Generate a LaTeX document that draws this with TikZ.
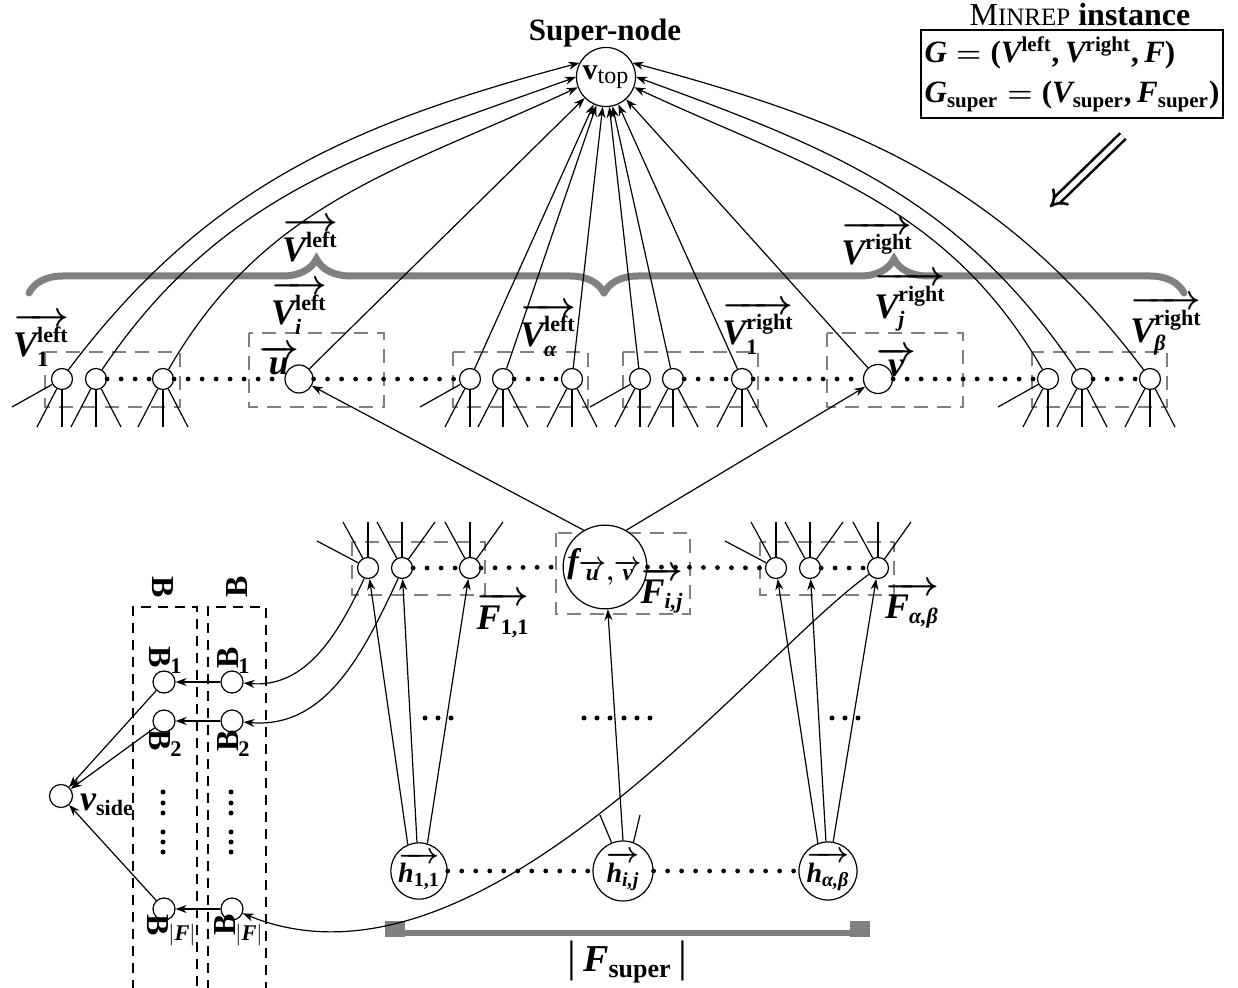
\documentclass[tikz,border=0pt]{standalone}
\usepackage{amsmath}
\usepackage{graphicx}
\usepackage{fontspec}
\setmainfont{Liberation Serif}
\usetikzlibrary{arrows.meta,decorations.pathreplacing}
\definecolor{mg}{RGB}{128,128,128}
\newcommand{\myfs}[1]{\fontsize{#1}{#1}\selectfont}
\newcommand{\mybi}[1]{\text{\bfseries\itshape #1}}
\newcommand{\mysub}[2][11]{\text{\myfs{#1}\bfseries #2}}
\newcommand{\mysubi}[2][11]{\text{\myfs{#1}\bfseries\itshape #2}}
\newcommand{\Bcl}{\rotatebox[origin=c]{-90}{\bfseries B}}
\newcommand{\Bcr}{\rotatebox[origin=c]{90}{\bfseries B}}
\begin{document}
\begin{tikzpicture}[x=0.5pt,y=0.5pt,
 ln/.style={line width=0.6pt},
 sm/.style={circle,draw,fill=white,inner sep=0pt,minimum size=10.5pt,line width=0.6pt},
 bc/.style={circle,draw,fill=white,inner sep=0pt,line width=0.6pt},
 grp/.style={draw=mg,dash pattern=on 7pt off 4.5pt,line width=1.4pt},
 bbox/.style={dash pattern=on 5pt off 3.5pt,line width=0.6pt},
 dotl/.style={line width=2.4pt,line cap=round,dash pattern=on 0pt off 7pt},
 arr/.style={-{Stealth[length=5.5pt,width=4pt]},line width=0.6pt},
 lbl/.style={font=\myfs{18}\boldmath,inner sep=0pt},
 brc/.style={draw=mg,line width=3.5pt,line cap=round,decorate,decoration={brace,amplitude=17pt}},
]
\useasboundingbox (0,0) rectangle (1238,-988);

% ---------- titles ----------
\node[font=\myfs{15.5}\bfseries] (sn) at (605,-33) {Super-node};
\node[font=\myfs{16}] (mt) at (1080,-15) {M{\myfs{12.5}INREP} \textbf{instance}};
\node[draw,line width=1pt,align=left,font=\fontsize{15.5}{20}\selectfont\boldmath,minimum width=142.5pt,minimum height=44pt,inner sep=2pt] (mbox) at (1072,-74)
 {$\mybi{G}=\mysub[15.5]{(}\mybi{V}^{\mysub[10.5]{left}}\mysub[15.5]{,}\,\mybi{V}^{\mysub[10.5]{right}}\mysub[15.5]{,}\,\mybi{F}\mysub[15.5]{)}$\\
  $\mybi{G}_{\mysub[10.5]{super}}=\mysub[15.5]{(}\mybi{V}_{\mysub[10.5]{super}}\mysub[15.5]{,}\,\mybi{F}_{\mysub[10.5]{super}}\mysub[15.5]{)}$};
\coordinate (dA) at (1123,-136);
\coordinate (dB) at (1050,-207);
\draw[double,double distance=2.6pt,line width=1.3pt,-{Implies}] (dA) -- (dB);

% ---------- braces ----------
\draw[brc] (29,-293) -- (604,-293);
\draw[brc] (604,-293) -- (1184,-293);
\node[lbl] (Vl) at (310,-240) {$\overrightarrow{\mybi{V}^{\mysub{left}}}$};
\node[lbl] (Vr) at (877,-243) {$\overrightarrow{\mybi{V}^{\mysub{right}}}$};

% ---------- group boxes ----------
\draw[grp] (45,-352) rectangle (180,-407);
\draw[grp] (249,-333) rectangle (384,-407);
\draw[grp] (453,-352) rectangle (588,-407);
\draw[grp] (623,-352) rectangle (758,-407);
\draw[grp] (827,-333) rectangle (963,-407);
\draw[grp] (1032,-352) rectangle (1167,-407);
\draw[grp] (352,-542) rectangle (485,-595);
\draw[grp] (556,-533) rectangle (690,-614);
\draw[grp] (760,-542) rectangle (894,-595);
\draw[bbox] (133,-990) -- (133,-607) -- (197,-607) -- (197,-990);
\draw[bbox] (208,-990) -- (208,-607) -- (266,-607) -- (266,-990);

% ---------- nodes ----------
\node[bc,minimum size=29.5pt,font=\myfs{15}] (vtop) at (606,-77) {\textbf{v}$_{\text{\myfs{12}top}}$};
\node[sm] (a1) at (62,-379) {};
\node[sm] (a2) at (96,-379) {};
\node[sm] (a3) at (163,-379) {};
\node[bc,minimum size=14pt] (u) at (299,-379) {};
\node[sm] (b1) at (470,-379) {};
\node[sm] (b2) at (503,-379) {};
\node[sm] (b3) at (572,-379) {};
\node[sm] (c1) at (640,-379) {};
\node[sm] (c2) at (673,-379) {};
\node[sm] (c3) at (742,-379) {};
\node[bc,minimum size=14.5pt] (v) at (878,-379) {};
\node[sm] (d1) at (1048,-379) {};
\node[sm] (d2) at (1082,-379) {};
\node[sm] (d3) at (1150,-379) {};

\node[sm] (e1) at (368,-568) {};
\node[sm] (e2) at (402,-568) {};
\node[sm] (e3) at (470,-568) {};
\node[bc,minimum size=33pt,font=\myfs{17}\boldmath] (f) at (605,-567) {$\mybi{f}_{\overrightarrow{\mybi{u}},\overrightarrow{\mybi{v}}}$};
\node[sm] (g1) at (776,-568) {};
\node[sm] (g2) at (810,-568) {};
\node[sm] (g3) at (878,-568) {};

\node[bc,minimum size=28pt,font=\myfs{14}\boldmath] (h1) at (419,-871) {$\overrightarrow{\mybi{h}_{\mysub[10]{1,1}}}$};
\node[bc,minimum size=30pt,font=\myfs{14}\boldmath] (h2) at (623,-871) {$\overrightarrow{\mybi{h}_{\mysubi[10]{i,j}}}$};
\node[bc,minimum size=29pt,font=\myfs{14}\boldmath] (h3) at (828,-871) {$\overrightarrow{\mybi{h}_{\mysubi[10]{α,β}}}$};

\node[sm,minimum size=11pt] (bl1) at (164,-682) {};
\node[sm,minimum size=11pt] (bl2) at (164,-721) {};
\node[sm,minimum size=11pt] (blF) at (164,-909) {};
\node[sm,minimum size=11pt] (br1) at (232,-682) {};
\node[sm,minimum size=11pt] (br2) at (232,-721) {};
\node[sm,minimum size=11pt] (brF) at (232,-909) {};
\node[sm,minimum size=11.5pt] (vs) at (61,-796) {};

% ---------- labels ----------
\node[lbl] (L1) at (41,-340) {$\overrightarrow{\mybi{V}^{\mysub{left}}_{\mysub{1}}}$};
\node[lbl] (Li) at (299,-308) {$\overrightarrow{\mybi{V}^{\mysub{left}}_{\mysubi{i}}}$};
\node[lbl] (Lu) at (279,-360) {$\overrightarrow{\mybi{u}}$};
\node[lbl] (La) at (548,-330) {$\overrightarrow{\mybi{V}^{\mysub{left}}_{\mysubi{α}}}$};
\node[lbl] (R1) at (758,-328) {$\overrightarrow{\mybi{V}^{\mysub{right}}_{\mysub{1}}}$};
\node[lbl] (Rj) at (910,-302) {$\overrightarrow{\mybi{V}^{\mysub{right}}_{\mysubi{j}}}$};
\node[lbl] (Lv) at (896,-362) {$\overrightarrow{\mybi{v}}$};
\node[lbl] (Rb) at (1166,-326) {$\overrightarrow{\mybi{V}^{\mysub{right}}_{\mysubi{β}}}$};
\node[lbl] (F11) at (503,-615) {$\overrightarrow{\mybi{F}_{\mysub{1,1}}}$};
\node[lbl] (Fij) at (662,-590) {$\overrightarrow{\mybi{F}_{\mysubi{i,j}}}$};
\node[lbl] (Fab) at (912,-605) {$\overrightarrow{\mybi{F}_{\mysubi{α,β}}}$};
\node[lbl] (vsl) at (107,-805) {$\mybi{v}_{\mysub{side}}$};
\node[font=\myfs{16}] (hB1) at (163,-587) {\Bcl};
\node[font=\myfs{16}] (hB2) at (237,-587) {\Bcr};
\node[font=\myfs{16}] (lb1) at (166,-660) {\Bcl\textsubscript{\bfseries 1}};
\node[font=\myfs{16}] (rb1) at (234,-660) {\Bcr\textsubscript{\bfseries 1}};
\node[font=\myfs{16}] (lb2) at (166,-743) {\Bcl\textsubscript{\bfseries 2}};
\node[font=\myfs{16}] (rb2) at (234,-743) {\Bcr\textsubscript{\bfseries 2}};
\node[font=\myfs{16}] (lbF) at (172,-930) {\Bcl\textsubscript{$|\mybi{F}|$}};
\node[font=\myfs{16}] (rbF) at (239,-930) {\Bcr\textsubscript{$|\mybi{F}|$}};
\node[font=\myfs{19}\boldmath] (Fs) at (627,-962) {\myfs{22}|\,\myfs{19}$\mybi{F}_{\mysub[13]{super}}$\,\myfs{22}|};

% ---------- bottom bracket ----------
\fill[mg] (385,-921) rectangle (405,-937);
\fill[mg] (850,-921) rectangle (870,-937);
\draw[mg,line width=3pt] (395,-933) -- (860,-933);

% ---------- dotted lines ----------
\draw[dotl] (a2.east) -- (a3.west);
\draw[dotl] (a3.east) -- (u.west);
\draw[dotl] (u.east) -- (b1.west);
\draw[dotl] (b2.east) -- (b3.west);
\draw[dotl] (c2.east) -- (c3.west);
\draw[dotl] (c3.east) -- (v.west);
\draw[dotl] (v.east) -- (d1.west);
\draw[dotl] (d2.east) -- (d3.west);
\draw[dotl] (e2.east) -- (e3.west);
\draw[dotl] (e3.east) -- (f.west);
\draw[dotl] (f.east) -- (g1.west);
\draw[dotl] (g2.east) -- (g3.west);
\draw[dotl] (h1.east) -- (h2.west);
\draw[dotl] (h2.east) -- (h3.west);
\foreach \x in {425,438,451,584,597,610,624,637,650,832,845,858} \fill (\x,-718) circle (1.25pt);
\foreach \y in {792,803,813,832,842,852} {\fill (163,-\y) circle (1.25pt); \fill (231,-\y) circle (1.25pt);}

% ---------- stubs ----------
\foreach \n in {a1,b1,c1,d1} {
 \draw[ln] (\n.209) -- ([shift={(-50,-28)}]\n.center);
 \draw[ln] (\n.242) -- ([shift={(-25,-48)}]\n.center);
 \draw[ln] (\n.south) -- ([shift={(0,-48)}]\n.center);}
\foreach \n in {a2,a3,b2,b3,c2,c3,d2,d3} {
 \draw[ln] (\n.242) -- ([shift={(-25,-48)}]\n.center);
 \draw[ln] (\n.south) -- ([shift={(0,-48)}]\n.center);
 \draw[ln] (\n.298) -- ([shift={(25,-48)}]\n.center);}
\foreach \n in {e1,g1} {
 \draw[ln] (\n.152) -- ([shift={(-51,27)}]\n.center);
 \draw[ln] (\n.118) -- ([shift={(-25,46)}]\n.center);
 \draw[ln] (\n.north) -- ([shift={(0,46)}]\n.center);}
\foreach \n in {e2,e3,g2,g3} {
 \draw[ln] (\n.118) -- ([shift={(-25,46)}]\n.center);
 \draw[ln] (\n.north) -- ([shift={(0,46)}]\n.center);
 \draw[ln] (\n.54) -- ([shift={(33,46)}]\n.center);}
\draw[ln] (h2.112) -- ([shift={(-23,56)}]h2.center);
\draw[ln] (h2.70) -- ([shift={(17,56)}]h2.center);

% ---------- edges to super-node ----------
\draw[arr] (a1.55) to[out=53,in=195] (vtop.152);
\draw[arr] (a2.57) to[out=56,in=200] (vtop.180);
\draw[arr] (a3.60) to[out=60,in=205] (vtop.200);
\draw[arr] (d3.125) to[out=127,in=-15] (vtop.28);
\draw[arr] (d2.123) to[out=124,in=-20] (vtop.0);
\draw[arr] (d1.120) to[out=120,in=-25] (vtop.-20);
\foreach \n in {u,b1,b2,b3,c1,c2,c3,v} \draw[arr] (\n) -- (vtop);

% ---------- lower edges ----------
\draw[arr] (f.120) -- (u);
\draw[arr] (f.60) -- (v);
\draw[arr] (h1.113) -- (e1);
\draw[arr] (h1.94) -- (e2);
\draw[arr] (h1.73) -- (e3);
\draw[arr] (h2.north) -- (f);
\draw[arr] (h3.110) -- (g1);
\draw[arr] (h3.94) -- (g2);
\draw[arr] (h3.80) -- (g3);
\draw[arr] (e1.250) to[out=-115,in=-5] (br1);
\draw[arr] (e2.250) to[out=-115,in=-5] (br2);
\draw[arr] (g3.215) .. controls (750,-660) and (480,-1010) .. (brF);
\draw[arr] (br1) -- (bl1);
\draw[arr] (br2) -- (bl2);
\draw[arr] (brF) -- (blF);
\draw[arr] (bl1) -- (vs);
\draw[arr] (bl2) -- (vs);
\draw[arr] (blF) -- (vs);
\end{tikzpicture}
\end{document}
